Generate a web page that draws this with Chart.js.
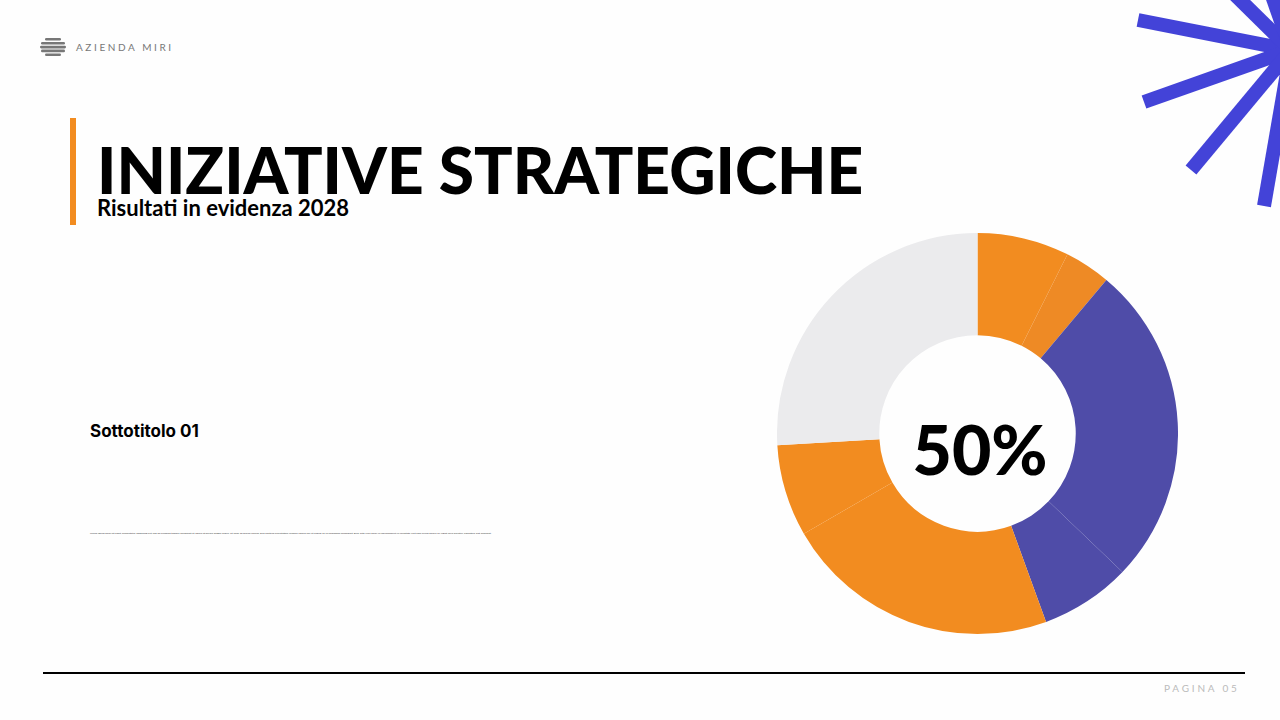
<!DOCTYPE html>
<html lang="it">
<head>
<meta charset="utf-8">
<title>Iniziative strategiche</title>
<script src="https://cdn.jsdelivr.net/npm/chart.js@4"></script>
<style>
    html, body { margin: 0; padding: 0; }
    body { width: 1280px; height: 720px; background: #fefefe; overflow: hidden; position: relative; font-family: Lato, sans-serif; color: #000; }
    body > * { position: absolute; }
    #star { left: 0; top: 0; }
    #logo { left: 40px; top: 38px; }
    #brand { left: 76px; top: 41px; font-size: 10px; line-height: 13px; letter-spacing: 2.6px; color: #777; }
    #accent { left: 70px; top: 118px; width: 6px; height: 107px; background: #f28c20; }
    #title { left: 97px; top: 132px; font-size: 64px; line-height: 76px; font-weight: 900; white-space: nowrap; }
    #subtitle { left: 97px; top: 194px; font-size: 22px; line-height: 27px; font-weight: 700; white-space: nowrap; }
    #section { left: 90px; top: 420px; font-family: Inter, sans-serif; font-size: 17px; line-height: 22px; font-weight: 700; white-space: nowrap; }
    #body-text { left: 90px; top: 531px; font-size: 2.6px; line-height: 4px; color: #444; white-space: nowrap; }
    #chart-box { left: 777px; top: 233px; width: 401px; height: 401px; }
    #center-label { left: 880px; top: 408px; width: 200px; text-align: center; font-size: 68px; line-height: 82px; font-weight: 900; }
    #rule { left: 43px; top: 672px; width: 1202px; height: 2px; background: #000; }
    #page { left: 1164px; top: 682px; font-size: 10px; line-height: 13px; letter-spacing: 2.8px; color: #bbb; white-space: nowrap; }
</style>
</head>
<body>
<svg id="star" width="1280" height="720" viewBox="0 0 1280 720" fill="none" stroke="#4343d8" stroke-width="14">
    <line x1="1138" y1="20" x2="1291" y2="50"/>
    <line x1="1144" y1="102" x2="1291" y2="50"/>
    <line x1="1191" y1="170" x2="1291" y2="50"/>
    <line x1="1264" y1="206" x2="1291" y2="50"/>
    <line x1="1230" y1="-10" x2="1291" y2="50"/>
    <line x1="1270" y1="-10" x2="1291" y2="50"/>
</svg>
<svg id="logo" width="26" height="18" viewBox="0 0 26 18" fill="#777">
    <rect x="5" y="0" width="16" height="2.6" rx="1.3"/>
    <rect x="1" y="4" width="24" height="2.6" rx="1.3"/>
    <rect x="0" y="7.8" width="26" height="2.6" rx="1.3"/>
    <rect x="1" y="11.6" width="24" height="2.6" rx="1.3"/>
    <rect x="5" y="15.4" width="16" height="2.6" rx="1.3"/>
</svg>
<div id="brand">AZIENDA MIRI</div>
<div id="accent"></div>
<div id="title">INIZIATIVE STRATEGICHE</div>
<div id="subtitle">Risultati in evidenza 2028</div>
<div id="section">Sottotitolo 01</div>
<div id="body-text">Lorem ipsum dolor sit amet, consectetur adipiscing elit, sed do eiusmod tempor incididunt ut labore et dolore magna aliqua. Ut enim ad minim veniam, quis nostrud exercitation ullamco laboris nisi ut aliquip ex ea commodo consequat. Duis aute irure dolor in reprehenderit in voluptate velit esse cillum dolore eu fugiat nulla pariatur, excepteur sint occaecat.</div>
<div id="chart-box"><canvas id="donut" width="401" height="401"></canvas></div>
<div id="center-label"></div>
<div id="rule"></div>
<div id="page">PAGINA 05</div>

<script>
// Valori (percentuali, in senso orario dall'alto)
const segmentLabels = ['Segmento 1', 'Segmento 2', 'Segmento 3', 'Segmento 4', 'Segmento 5', 'Segmento 6', 'Segmento 7'];
const segmentValues = [7.4, 3.7, 26, 7.3, 22.2, 7.4, 25.9];
const segmentColors = ['#f28c20', '#ee8a25', '#4f4ca8', '#4f4ca8', '#f28c20', '#f28c20', '#ebebed'];
const centerLabel = '50%';

document.getElementById('center-label').textContent = centerLabel;

new Chart(document.getElementById('donut'), {
    type: 'doughnut',
    data: {
        labels: segmentLabels,
        datasets: [{
            data: segmentValues,
            backgroundColor: segmentColors,
            borderWidth: 0
        }]
    },
    options: {
        responsive: false,
        animation: false,
        cutout: '49%',
        layout: { padding: 0 },
        plugins: {
            legend: { display: false },
            tooltip: { enabled: false }
        }
    }
});
</script>
</body>
</html>
